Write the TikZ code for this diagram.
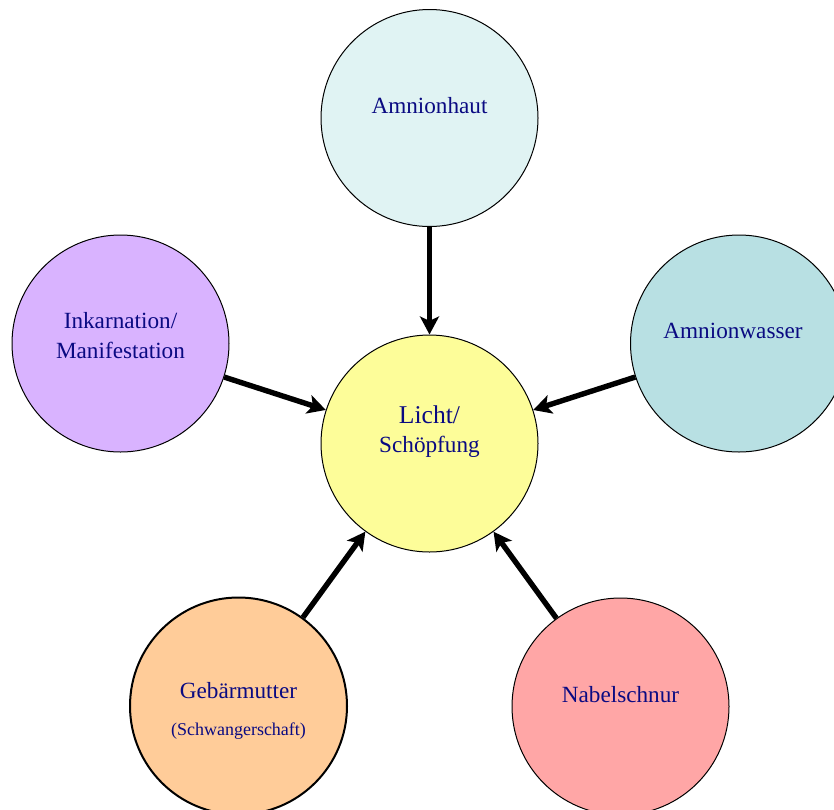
\documentclass[tikz,border=0pt]{standalone}
\usepackage{fontspec}
\setmainfont{Liberation Serif}
\usetikzlibrary{arrows.meta}

\definecolor{navytext}{RGB}{10,10,130}
\definecolor{lichtfill}{RGB}{253,253,153}
\definecolor{hautfill}{RGB}{224,243,243}
\definecolor{wasserfill}{RGB}{184,224,227}
\definecolor{inkfill}{RGB}{217,179,255}
\definecolor{muttfill}{RGB}{255,204,153}
\definecolor{nabelfill}{RGB}{255,166,166}

\begin{document}
\begin{tikzpicture}[x=0.5pt,y=-0.5pt,
  orb/.style={circle,draw=black,line width=0.5pt,minimum size=108.5pt,inner sep=0pt},
  caption/.style={text=navytext,font=\fontsize{11.6}{14}\selectfont,anchor=base,inner sep=0pt},
  bigcaption/.style={caption,font=\fontsize{12.8}{15}\selectfont},
  smallcaption/.style={caption,font=\fontsize{9}{11}\selectfont},
  feed/.style={line width=2.7pt,-{Stealth[length=9pt,width=9.5pt,inset=2.2pt]}}]

\useasboundingbox (0,0) rectangle (834,809);
\clip (0,0) rectangle (834,809);

% circles
\node[orb,fill=lichtfill]  (licht)  at (429.5,443.5) {};
\node[orb,fill=hautfill]   (haut)   at (429.5,118)   {};
\node[orb,fill=wasserfill] (wasser) at (739,343.5)   {};
\node[orb,fill=inkfill]    (ink)    at (120.5,343.5) {};
\node[orb,fill=muttfill,line width=1pt] (mutter) at (238.5,706) {};
\node[orb,fill=nabelfill]  (nabel)  at (620.5,706.5) {};

% captions
\node[bigcaption] (lichtA) at (429.5,423) {Licht/};
\node[caption]    (lichtB) at (429.5,452) {Schöpfung};
\node[caption] (hautA)   at (429.5,113) {Amnionhaut};
\node[caption] (wasserA) at (733,338)   {Amnionwasser};
\node[caption] (inkA)    at (120.5,328) {Inkarnation/};
\node[caption] (inkB)    at (120.5,358) {Manifestation};
\node[caption] (muttA)   at (238.5,698) {Gebärmutter};
\node[smallcaption] (muttB) at (238.5,735) {(Schwangerschaft)};
\node[caption] (nabelA)  at (620.5,702) {Nabelschnur};

% connectors
\draw[feed] (haut)   -- (licht);
\draw[feed] (wasser) -- (licht);
\draw[feed] (ink)    -- (licht);
\draw[feed] (mutter) -- (licht);
\draw[feed] (nabel)  -- (licht);
\end{tikzpicture}
\end{document}
